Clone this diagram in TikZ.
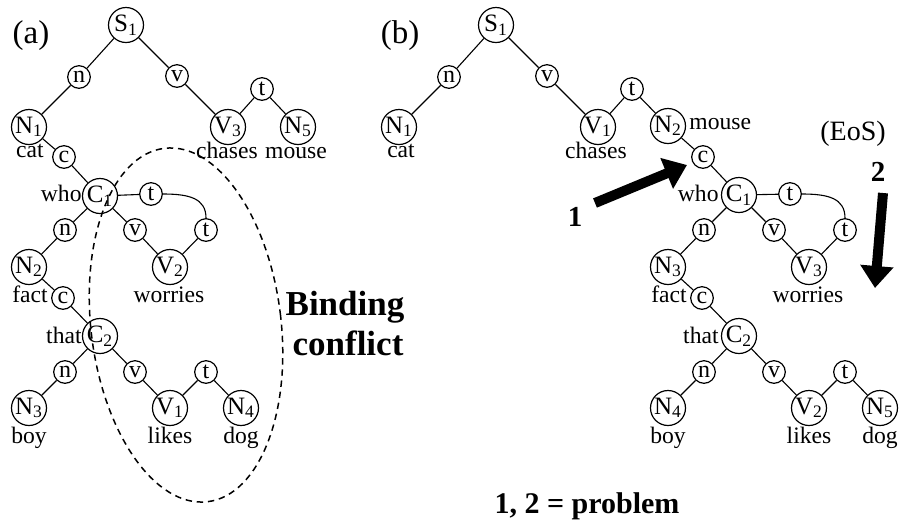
\documentclass[tikz,border=0pt]{standalone}
\usepackage{fontspec}
\setmainfont{Liberation Serif}
\usetikzlibrary{arrows.meta}

\newcommand{\sub}[1]{\textsubscript{#1}}

\tikzset{
  big/.style={circle, draw, line width=0.6pt, minimum size=17.5pt, inner sep=0pt,
              font=\fontsize{12.5}{14}\selectfont},
  sm/.style={circle, draw, line width=0.6pt, minimum size=11.3pt, inner sep=0pt,
             font=\fontsize{12}{14}\selectfont},
  lbl/.style={inner sep=0pt, font=\fontsize{11.8}{13}\selectfont},
  edge/.style={line width=0.55pt},
  conflict/.style={line width=0.75pt, dash pattern=on 3.2pt off 2.4pt},
  bigarrow/.style={line width=5pt, -{Triangle[length=11pt,width=16pt]}},
  boldlbl/.style={inner sep=0pt, font=\fontsize{14.5}{16}\selectfont\bfseries},
}

\begin{document}
\begin{tikzpicture}[x=0.5pt, y=-0.5pt]
\useasboundingbox (0,0) rectangle (901,526);

% ---------------- panel (a) ----------------
\node[inner sep=0pt, anchor=base, font=\fontsize{16.5}{18}\selectfont] (alab) at (31,43) {(a)};

\node[big] (aS1) at (126,25) {S\sub{1}};
\node[sm]  (an1) at (79,77) {n};
\node[sm]  (av1) at (177,76) {v};
\node[sm]  (at1) at (262,89) {t};
\node[big] (aN1) at (29,127) {N\sub{1}};
\node[big] (aV3) at (228,127) {V\sub{3}};
\node[big] (aN5) at (298,127) {N\sub{5}};
\node[sm]  (ac1) at (64,157) {c};
\node[big] (aC1) at (100,196) {C\sub{1}};
\node[sm]  (at2) at (151,194) {t};
\node[sm]  (at3) at (206,230) {t};
\node[sm]  (an2) at (65,230) {n};
\node[sm]  (av2) at (135,230) {v};
\node[big] (aN2) at (29,267) {N\sub{2}};
\node[big] (aV2) at (170,267) {V\sub{2}};
\node[sm]  (ac2) at (63,298) {c};
\node[big] (aC2) at (100,336) {C\sub{2}};
\node[sm]  (an3) at (65,372) {n};
\node[sm]  (av3) at (135,372) {v};
\node[sm]  (at4) at (206,372) {t};
\node[big] (aN3) at (29,408) {N\sub{3}};
\node[big] (aV1) at (170,408) {V\sub{1}};
\node[big] (aN4) at (241,408) {N\sub{4}};

\node[lbl, anchor=base] (awcat)   at (30,157)  {cat};
\node[lbl, anchor=base] (awchase) at (227,158) {chases};
\node[lbl, anchor=base] (awmouse) at (296,158) {mouse};
\node[lbl, anchor=base east] (awwho)  at (82,201) {who};
\node[lbl, anchor=base] (awfact)  at (30,302) {fact};
\node[lbl, anchor=base] (awworry) at (169,302) {worries};
\node[lbl, anchor=base east] (awthat) at (82,343) {that};
\node[lbl, anchor=base] (awboy)   at (29,443) {boy};
\node[lbl, anchor=base] (awlike)  at (170,443) {likes};
\node[lbl, anchor=base] (awdog)   at (241,443) {dog};

\draw[edge] (aS1) -- (an1) -- (aN1);
\draw[edge] (aS1) -- (av1) -- (aV3);
\draw[edge] (aV3) -- (at1) -- (aN5);
\draw[edge] (aN1) -- (ac1) -- (aC1);
\draw[edge] (aC1) -- (at2);
\draw[edge] (at2.east) .. controls +(26,0) and +(0,-20) .. (at3.north);
\draw[edge] (at3) -- (aV2);
\draw[edge] (aC1) -- (an2) -- (aN2);
\draw[edge] (aC1) -- (av2) -- (aV2);
\draw[edge] (aN2) -- (ac2) -- (aC2);
\draw[edge] (aC2) -- (an3) -- (aN3);
\draw[edge] (aC2) -- (av3) -- (aV1);
\draw[edge] (aV1) -- (at4) -- (aN4);

% region of the binding conflict
\coordinate (zone) at (186,325);
\draw[conflict, rotate around={7:(zone)}] (zone) ellipse [x radius=95, y radius=178];
\node[inner sep=0pt, anchor=base, font=\fontsize{17.5}{19}\selectfont\bfseries] (bind) at (345,315) {Binding};
\node[inner sep=0pt, anchor=base, font=\fontsize{17.5}{19}\selectfont\bfseries] (confl) at (348,355) {conflict};

% ---------------- panel (b) ----------------
\node[inner sep=0pt, anchor=base, font=\fontsize{16.5}{18}\selectfont] (blab) at (400,43) {(b)};

\node[big] (bS1) at (496,25) {S\sub{1}};
\node[sm]  (bn1) at (449,77) {n};
\node[sm]  (bv1) at (547,76) {v};
\node[sm]  (bt1) at (632,89) {t};
\node[big] (bN1) at (399,127) {N\sub{1}};
\node[big] (bV1) at (598,127) {V\sub{1}};
\node[big] (bN2) at (668,126) {N\sub{2}};
\node[sm]  (bc1) at (703,157) {c};
\node[big] (bC1) at (739,195) {C\sub{1}};
\node[sm]  (bt2) at (790,194) {t};
\node[sm]  (bt3) at (845,230) {t};
\node[sm]  (bn2) at (704,230) {n};
\node[sm]  (bv2) at (774,230) {v};
\node[big] (bN3) at (668,267) {N\sub{3}};
\node[big] (bV3) at (809,267) {V\sub{3}};
\node[sm]  (bc2) at (702,298) {c};
\node[big] (bC2) at (739,336) {C\sub{2}};
\node[sm]  (bn3) at (704,372) {n};
\node[sm]  (bv3) at (774,372) {v};
\node[sm]  (bt4) at (845,372) {t};
\node[big] (bN4) at (668,408) {N\sub{4}};
\node[big] (bV2) at (809,408) {V\sub{2}};
\node[big] (bN5) at (880,408) {N\sub{5}};

\node[lbl, anchor=base] (bwcat)   at (401,157) {cat};
\node[lbl, anchor=base] (bwchase) at (596,158) {chases};
\node[lbl, anchor=base west] (bwmouse) at (689,129) {mouse};
\node[lbl, anchor=base east] (bwwho)  at (719,201) {who};
\node[lbl, anchor=base] (bwfact)  at (669,302) {fact};
\node[lbl, anchor=base] (bwworry) at (808,302) {worries};
\node[lbl, anchor=base east] (bwthat) at (719,343) {that};
\node[lbl, anchor=base] (bwboy)   at (668,443) {boy};
\node[lbl, anchor=base] (bwlike)  at (809,443) {likes};
\node[lbl, anchor=base] (bwdog)   at (880,443) {dog};

\draw[edge] (bS1) -- (bn1) -- (bN1);
\draw[edge] (bS1) -- (bv1) -- (bV1);
\draw[edge] (bV1) -- (bt1) -- (bN2);
\draw[edge] (bN2) -- (bc1) -- (bC1);
\draw[edge] (bC1) -- (bt2);
\draw[edge] (bt2.east) .. controls +(26,0) and +(0,-20) .. (bt3.north);
\draw[edge] (bt3) -- (bV3);
\draw[edge] (bC1) -- (bn2) -- (bN3);
\draw[edge] (bC1) -- (bv2) -- (bV3);
\draw[edge] (bN3) -- (bc2) -- (bC2);
\draw[edge] (bC2) -- (bn3) -- (bN4);
\draw[edge] (bC2) -- (bv3) -- (bV2);
\draw[edge] (bV2) -- (bt4) -- (bN5);

% problem markers
\node[inner sep=0pt, font=\fontsize{14}{16}\selectfont] (eos) at (853,134) {(EoS)};
\coordinate (p1s) at (595,203);
\coordinate (p1e) at (687,165);
\draw[bigarrow] (p1s) -- (p1e);
\node[boldlbl] (one) at (575,217) {1};
\coordinate (p2s) at (883,193);
\coordinate (p2e) at (875,288);
\draw[bigarrow] (p2s) -- (p2e);
\node[boldlbl] (two) at (878,172) {2};

\node[inner sep=0pt, anchor=base, font=\fontsize{15}{17}\selectfont\bfseries] (legend) at (587,513) {1, 2 = problem};
\end{tikzpicture}
\end{document}
